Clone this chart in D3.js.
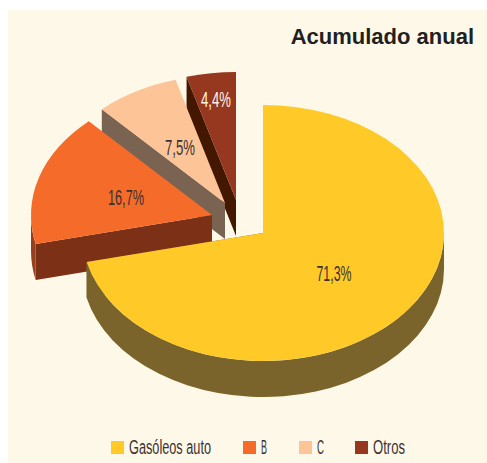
<!DOCTYPE html>
<html>
<head>
<meta charset="utf-8">
<script src="https://cdn.jsdelivr.net/npm/d3@7"></script>
<style>
    html, body { margin: 0; padding: 0; background: #ffffff; }
    svg { display: block; }
</style>
</head>
<body>
<div id="chart"></div>
<script>
// Chart data
const categories = ['Gasóleos auto', 'B', 'C', 'Otros'];
const shares = [71.3, 16.7, 7.5, 4.4];
const shareLabels = ['71,3%', '16,7%', '7,5%', '4,4%'];
const titleText = 'Acumulado anual';

// Layout
const width = 487;
const height = 463;
const rx = 181;
const ry = 128;
const depth = 36;
const centers = [[263, 233], [212, 215], [225, 203], [236, 200]];
const topColors = ['#ffca28', '#f56b2a', '#fdc597', '#96371f'];
const wallColors = ['#7a642b', '#7c3116', '#7a6350', '#431700'];
const labelColors = ['#3a3232', '#3a3232', '#3a3232', '#fdf7e6'];
const labelPos = [[334, 273], [126, 197], [180, 147], [216, 99]];
const labelWidths = [35, 36, 30, 30];

const svg = d3.select('#chart')
    .append('svg')
    .attr('width', width)
    .attr('height', height);

svg.append('rect')
    .attr('x', 8)
    .attr('y', 10)
    .attr('width', width - 8)
    .attr('height', height - 10)
    .attr('fill', '#fef8e8');

const pie = d3.pie().sort(null).value(d => d);
const slices = pie(shares);

const arc = d3.arc().innerRadius(0).outerRadius(rx);

function point(c, angle, dy = 0) {
    return [c[0] + rx * Math.sin(angle), c[1] - ry * Math.cos(angle) + dy];
}

// Outer curved wall, only the part facing the viewer
function outerWall(s, c) {
    const a0 = Math.max(s.startAngle, Math.PI / 2);
    const a1 = Math.min(s.endAngle, Math.PI * 1.5);
    if (a1 <= a0) return null;
    const p0 = point(c, a0);
    const p1 = point(c, a1);
    const p2 = point(c, a1, depth);
    const p3 = point(c, a0, depth);
    return `M${p0}A${rx},${ry} 0 0 1 ${p1}L${p2}A${rx},${ry} 0 0 0 ${p3}Z`;
}

// Flat wall from the slice centre to its rim
function sideWall(c, angle) {
    const p = point(c, angle);
    const q = point(c, angle, depth);
    return `M${c}L${p}L${q}L${c[0]},${c[1] + depth}Z`;
}

// Back to front: Otros, C, B, then the big slice
[3, 2, 1, 0].forEach(i => {
    const s = slices[i];
    const c = centers[i];
    const g = svg.append('g').attr('class', 'slice');

    // the big slice shows its closing side, the others their opening side
    g.append('path')
        .attr('d', sideWall(c, i === 0 ? s.endAngle : s.startAngle))
        .attr('fill', wallColors[i]);

    const wall = outerWall(s, c);
    if (wall) {
        g.append('path')
            .attr('d', wall)
            .attr('fill', i === 1 ? '#96401d' : wallColors[i]);
    }

    g.append('path')
        .attr('d', arc(s))
        .attr('transform', `translate(${c[0]},${c[1]}) scale(1,${ry / rx})`)
        .attr('fill', topColors[i]);
});

// Percent labels, squeezed to the width of the condensed face
shareLabels.forEach((t, i) => {
    svg.append('text')
        .attr('x', labelPos[i][0])
        .attr('y', labelPos[i][1])
        .attr('dy', '0.36em')
        .attr('text-anchor', 'middle')
        .attr('textLength', labelWidths[i])
        .attr('lengthAdjust', 'spacingAndGlyphs')
        .attr('font-family', '"Liberation Sans Narrow", "Liberation Sans", sans-serif')
        .attr('font-size', 22)
        .attr('fill', labelColors[i])
        .text(t);
});

svg.append('text')
    .attr('x', 474)
    .attr('y', 44)
    .attr('text-anchor', 'end')
    .attr('font-family', '"Liberation Sans", Arial, sans-serif')
    .attr('font-weight', 'bold')
    .attr('font-size', 22)
    .attr('fill', '#231f20')
    .text(titleText);

// Legend
const legendX = [111, 243, 299, 355];
const legendWidths = [82, 6, 7, 32];
const legend = svg.append('g')
    .selectAll('g')
    .data(categories)
    .join('g')
    .attr('transform', (d, i) => `translate(${legendX[i]},441)`);

legend.append('rect')
    .attr('width', 13)
    .attr('height', 13)
    .attr('fill', (d, i) => topColors[i]);

legend.append('text')
    .attr('x', 18)
    .attr('y', 13)
    .attr('textLength', (d, i) => legendWidths[i])
    .attr('lengthAdjust', 'spacingAndGlyphs')
    .attr('font-family', '"Liberation Sans Narrow", "Liberation Sans", sans-serif')
    .attr('font-size', 20)
    .attr('fill', '#3a3232')
    .text(d => d);
</script>
</body>
</html>
